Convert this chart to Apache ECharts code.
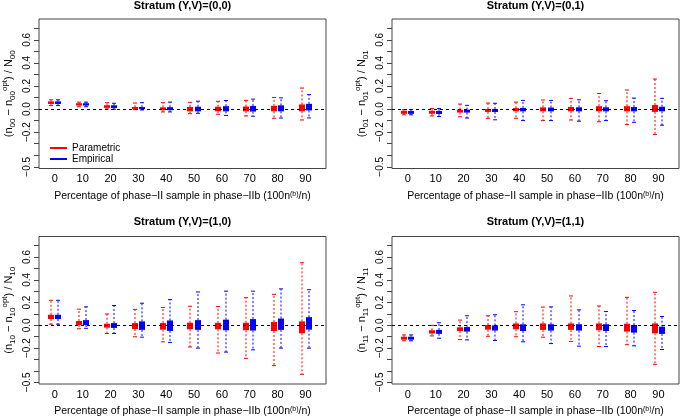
<!DOCTYPE html>
<html><head><meta charset="utf-8">
<script src="https://cdn.jsdelivr.net/npm/echarts@6/dist/echarts.min.js"></script>
<style>html,body{margin:0;padding:0;background:#fff}#c{width:680px;height:418px}</style>
</head><body><div id="c"></div>
<script>
const categories = [0, 10, 20, 30, 40, 50, 60, 70, 80, 90];
const panelTitles = ['Stratum (Y,V)=(0,0)', 'Stratum (Y,V)=(0,1)', 'Stratum (Y,V)=(1,0)', 'Stratum (Y,V)=(1,1)'];
const panelSubs = ['00', '01', '10', '11'];
const seriesNames = ['Parametric', 'Empirical'];
const yTickValues = [-0.5, -0.4, -0.3, -0.2, -0.1, 0, 0.1, 0.2, 0.3, 0.4, 0.5, 0.6, 0.7];
const yLabelValues = [-0.5, -0.2, 0, 0.2, 0.4, 0.6];
const xLabel = 'Percentage of phase\u2212II sample in phase\u2212IIb (100n{p|(b)}/n)';

// each row: [min, q1, median, q3, max]
const s00Parametric = [[0.03,0.045,0.055,0.065,0.08],[0.02,0.033,0.04,0.048,0.06],[0.0,0.012,0.022,0.032,0.055],[-0.005,0.0,0.008,0.016,0.052],[-0.025,-0.01,0.002,0.014,0.055],[-0.04,-0.02,0.0,0.018,0.058],[-0.045,-0.02,0.0,0.02,0.067],[-0.06,-0.02,0.002,0.022,0.075],[-0.08,-0.02,0.005,0.028,0.1],[-0.095,-0.02,0.01,0.04,0.182]];
const s00Empirical = [[0.03,0.045,0.055,0.065,0.08],[0.02,0.033,0.04,0.048,0.06],[-0.002,0.01,0.02,0.032,0.05],[-0.008,0.0,0.008,0.016,0.055],[-0.025,-0.01,0.003,0.016,0.06],[-0.037,-0.02,0.0,0.02,0.068],[-0.055,-0.02,0.003,0.025,0.074],[-0.062,-0.022,0.004,0.027,0.086],[-0.078,-0.02,0.008,0.032,0.097],[-0.077,-0.012,0.015,0.045,0.125]];
const s01Parametric = [[-0.05,-0.04,-0.03,-0.015,-0.005],[-0.06,-0.04,-0.028,-0.015,0.005],[-0.067,-0.03,-0.018,-0.005,0.043],[-0.08,-0.025,-0.012,0.0,0.052],[-0.08,-0.02,-0.005,0.008,0.06],[-0.1,-0.02,0.0,0.015,0.078],[-0.095,-0.02,0.0,0.018,0.093],[-0.11,-0.02,0.002,0.025,0.135],[-0.135,-0.02,0.003,0.025,0.165],[-0.22,-0.025,0.005,0.035,0.26]];
const s01Empirical = [[-0.05,-0.04,-0.03,-0.018,-0.005],[-0.065,-0.042,-0.03,-0.017,0.005],[-0.078,-0.03,-0.018,-0.005,0.032],[-0.093,-0.025,-0.012,0.0,0.05],[-0.1,-0.02,-0.006,0.01,0.075],[-0.1,-0.02,-0.003,0.013,0.075],[-0.105,-0.02,-0.002,0.015,0.08],[-0.1,-0.02,-0.002,0.015,0.072],[-0.115,-0.02,-0.002,0.017,0.095],[-0.14,-0.02,-0.002,0.02,0.093]];
const s10Parametric = [[0.01,0.055,0.075,0.093,0.22],[-0.03,0.003,0.02,0.038,0.142],[-0.072,-0.02,-0.003,0.014,0.1],[-0.1,-0.032,-0.006,0.02,0.14],[-0.145,-0.038,-0.008,0.02,0.157],[-0.19,-0.035,-0.006,0.023,0.168],[-0.243,-0.035,-0.006,0.022,0.165],[-0.29,-0.043,-0.01,0.023,0.243],[-0.354,-0.05,-0.01,0.03,0.272],[-0.43,-0.07,-0.015,0.035,0.55]];
const s10Empirical = [[0.01,0.055,0.075,0.093,0.22],[-0.026,0.003,0.024,0.046,0.162],[-0.072,-0.023,-0.001,0.02,0.174],[-0.104,-0.04,-0.002,0.035,0.194],[-0.15,-0.049,-0.002,0.043,0.226],[-0.2,-0.04,0.003,0.046,0.293],[-0.235,-0.043,0.004,0.05,0.3],[-0.215,-0.046,0.005,0.055,0.3],[-0.2,-0.04,0.01,0.06,0.32],[-0.2,-0.038,0.017,0.072,0.313]];
const s11Parametric = [[-0.136,-0.125,-0.113,-0.1,-0.084],[-0.093,-0.072,-0.058,-0.043,0.0],[-0.125,-0.05,-0.033,-0.017,0.046],[-0.096,-0.038,-0.018,0.003,0.084],[-0.1,-0.035,-0.01,0.017,0.12],[-0.104,-0.04,-0.012,0.017,0.16],[-0.142,-0.04,-0.012,0.017,0.258],[-0.186,-0.043,-0.013,0.017,0.17],[-0.17,-0.055,-0.02,0.014,0.246],[-0.342,-0.07,-0.025,0.017,0.29]];
const s11Empirical = [[-0.136,-0.125,-0.113,-0.1,-0.084],[-0.113,-0.075,-0.058,-0.04,0.023],[-0.128,-0.055,-0.035,-0.015,0.084],[-0.133,-0.046,-0.022,0.0,0.093],[-0.145,-0.05,-0.02,0.009,0.18],[-0.16,-0.046,-0.018,0.01,0.162],[-0.183,-0.046,-0.018,0.01,0.136],[-0.186,-0.05,-0.02,0.01,0.122],[-0.18,-0.064,-0.028,0.003,0.13],[-0.212,-0.075,-0.045,-0.012,0.078]];

const panelData = [[s00Parametric, s00Empirical],[s01Parametric, s01Empirical],[s10Parametric, s10Empirical],[s11Parametric, s11Empirical]];
const colors = ['#ff0000', '#0000ff'];
const offsets = [-1.3, 1.3];
const FONT = '"Liberation Sans", Arial, Helvetica, sans-serif';

const grids = [
  {left: 39, top: 19, width: 287, height: 149.5},
  {left: 392, top: 19, width: 287, height: 149.5},
  {left: 39, top: 236.5, width: 287, height: 148.5},
  {left: 392, top: 236.5, width: 287, height: 148.5}
];

function fmt(v){ const s = Math.abs(v).toFixed(1); return (v < -1e-9 ? '\u2212' : '') + s; }

function makeRender(color, off){
  return function(params, api){
    const x = api.value(0);
    const c = Math.round(api.coord([x + off, 0])[0]);
    const yMin = api.coord([x, api.value(1)])[1];
    const yQ1 = api.coord([x, api.value(2)])[1];
    const yMed = api.coord([x, api.value(3)])[1];
    const yQ3 = api.coord([x, api.value(4)])[1];
    const yMax = api.coord([x, api.value(5)])[1];
    const hw = 3, cap = 2;
    const dash = {stroke: color, lineWidth: 1, lineDash: [2, 2]};
    const solid = {stroke: color, lineWidth: 1};
    return {type: 'group', children: [
      {type: 'line', shape: {x1: c, y1: yQ3, x2: c, y2: yMax}, style: dash},
      {type: 'line', shape: {x1: c, y1: yQ1, x2: c, y2: yMin}, style: dash},
      {type: 'line', shape: {x1: c - cap, y1: yMax, x2: c + cap, y2: yMax}, style: solid},
      {type: 'line', shape: {x1: c - cap, y1: yMin, x2: c + cap, y2: yMin}, style: solid},
      {type: 'rect', shape: {x: c - hw, y: yQ3, width: 2 * hw, height: Math.max(yQ1 - yQ3, 1)}, style: {fill: color}},
      {type: 'line', shape: {x1: c - hw, y1: yMed, x2: c + hw, y2: yMed}, style: {stroke: color, lineWidth: 2}}
    ]};
  };
}

const xAxes = [], yAxes = [], series = [], graphics = [];
grids.forEach((g, i) => {
  g.show = true; g.borderColor = '#444'; g.borderWidth = 1; g.backgroundColor = '#fff';
  xAxes.push({
    type: 'value', gridIndex: i, min: -5.7, max: 97.4, position: 'bottom',
    axisLine: {show: false, onZero: false}, axisTick: {show: false}, splitLine: {show: false},
    axisLabel: {customValues: categories, margin: 5, fontSize: 11, color: '#000', fontFamily: FONT},
    name: xLabel, nameLocation: 'middle', nameGap: 22,
    nameTextStyle: {fontSize: 10.5, color: '#000', fontFamily: FONT, rich: {p: {fontSize: 7, verticalAlign: 'top', lineHeight: 8, fontFamily: FONT}}}
  });
  const sub = panelSubs[i];
  yAxes.push({
    type: 'value', gridIndex: i, min: -0.515, max: 0.78, position: 'left',
    axisLine: {show: false, onZero: false}, splitLine: {show: false},
    axisTick: {show: true, inside: false, customValues: yTickValues, length: 5, lineStyle: {color: '#444'}},
    axisLabel: {customValues: yLabelValues, rotate: 90, margin: 7, fontSize: 10, color: '#000', fontFamily: FONT, formatter: fmt},
    name: '(n{s|' + sub + '} \u2212 n{s|' + sub + '}{p|opt}) / N{s|' + sub + '}',
    nameLocation: 'middle', nameRotate: 90, nameGap: 22,
    nameTextStyle: {fontSize: 11, color: '#000', fontFamily: FONT, lineHeight: 16,
      rich: {s: {fontSize: 8, lineHeight: 8, verticalAlign: 'bottom', fontFamily: FONT},
             p: {fontSize: 8, lineHeight: 8, verticalAlign: 'top', fontFamily: FONT}}}
  });
  panelData[i].forEach((arr, k) => {
    const s = {
      type: 'custom', name: seriesNames[k], xAxisIndex: i, yAxisIndex: i,
      itemStyle: {color: colors[k]},
      renderItem: makeRender(colors[k], offsets[k]),
      encode: {x: 0, y: [1, 2, 3, 4, 5]},
      data: categories.map((c, j) => [c].concat(arr[j])),
      z: 2
    };
    if (k === 1) {
      s.markLine = {silent: true, symbol: 'none', z: 10, animation: false,
        label: {show: false}, lineStyle: {type: [3, 3], color: '#000', width: 1},
        data: [{yAxis: 0}]};
    }
    series.push(s);
  });
  graphics.push({type: 'text', x: g.left + g.width / 2, y: i < 2 ? 0 : 216,
    style: {text: panelTitles[i], textAlign: 'center', textVerticalAlign: 'top',
      font: 'bold 11px ' + FONT, fill: '#000'}});
});

const chart = echarts.init(document.getElementById('c'), null, {renderer: 'canvas'});
chart.setOption({
  animation: false,
  backgroundColor: '#fff',
  grid: grids,
  xAxis: xAxes,
  yAxis: yAxes,
  legend: {data: seriesNames, orient: 'vertical', left: 45, top: 138, icon: 'rect',
    itemWidth: 17, itemHeight: 2, itemGap: 1, selectedMode: false,
    textStyle: {fontSize: 10, color: '#000', fontFamily: FONT, lineHeight: 10}},
  graphic: graphics,
  series: series
});
</script></body></html>
